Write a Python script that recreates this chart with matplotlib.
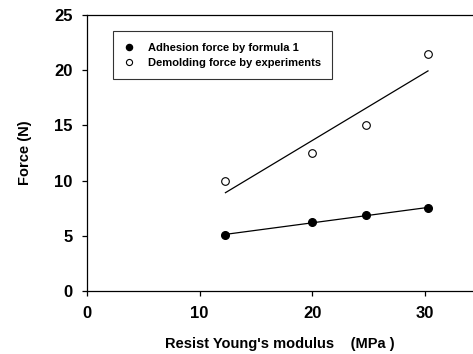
import numpy as np
import matplotlib.pyplot as plt

plt.rcParams['font.family'] = ['Liberation Sans', 'DejaVu Sans']
plt.rcParams['font.weight'] = 'bold'

# data
modulus = [12.3, 20.0, 24.8, 30.3]
adhesion = [5.05, 6.27, 6.88, 7.48]
demolding = [10.0, 12.5, 15.05, 21.45]

fig = plt.figure(figsize=(4.73, 3.54), dpi=100)
ax = fig.add_axes([0.184, 0.178, 0.816, 0.780])

# linear fits
x_fit = np.array([modulus[0], modulus[-1]])
p1 = np.polyfit(modulus, adhesion, 1)
p2 = np.polyfit(modulus, demolding, 1)
ax.plot(x_fit, np.polyval(p1, x_fit), color='black', lw=0.9)
ax.plot(x_fit, np.polyval(p2, x_fit), color='black', lw=0.9)

ax.plot(modulus, adhesion, 'o', color='black', ms=5.5,
        label='Adhesion force by formula 1')
ax.plot(modulus, demolding, 'o', mfc='white', mec='black', mew=0.8, ms=5.5,
        label='Demolding force by experiments')

ax.set_xlim(0, 34.3)
ax.set_ylim(0, 25)
ax.set_xticks([0, 10, 20, 30])
ax.set_yticks([0, 5, 10, 15, 20, 25])
ax.tick_params(direction='out', length=3.5, width=0.9, labelsize=12, pad=7)
ax.spines['right'].set_visible(False)
for s in ['left', 'bottom', 'top']:
    ax.spines[s].set_linewidth(0.9)

ax.set_xlabel("Resist Young's modulus    (MPa )", fontsize=10.5,
              fontweight='bold', labelpad=12)
ax.set_ylabel('Force (N)', fontsize=10.5, fontweight='bold', labelpad=16)

leg = ax.legend(loc='upper left', bbox_to_anchor=(0.052, 0.96), fontsize=8,
                frameon=True, fancybox=False, edgecolor='black',
                handletextpad=1.2, borderpad=1.0, labelspacing=0.5,
                handlelength=1.0, markerscale=0.8)
leg.get_frame().set_linewidth(0.8)

plt.savefig('out.png', dpi=100)
